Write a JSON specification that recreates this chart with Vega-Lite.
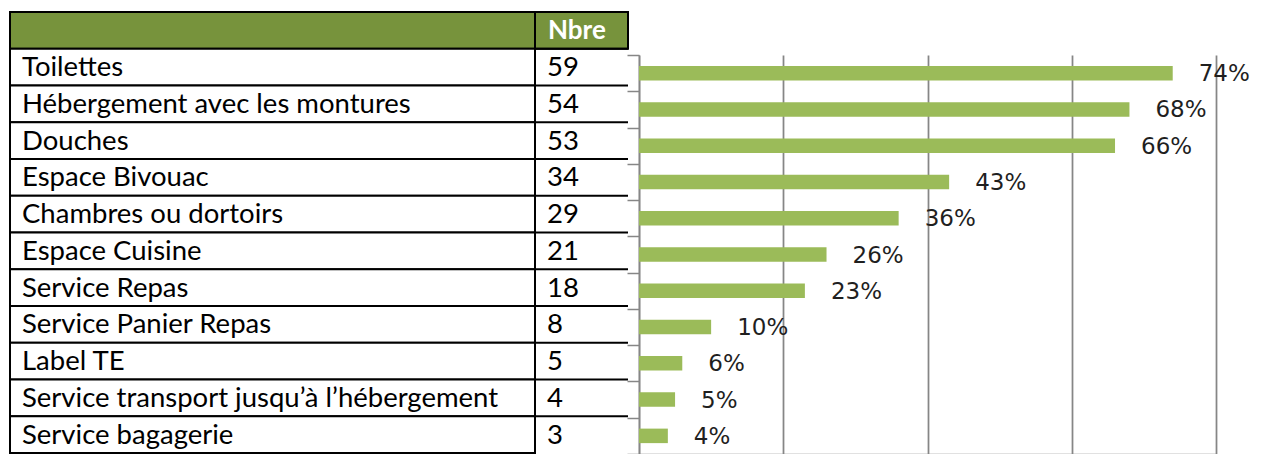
{
  "$schema": "https://vega.github.io/schema/vega-lite/v6.json",
  "padding": {"left": 9, "top": 11, "right": 0, "bottom": 0},
  "background": "white",
  "config": {"view": {"stroke": null}},
  "datasets": {
    "services": [
      {"service": "Toilettes", "nbre": 59, "part": 0.74},
      {"service": "Hébergement avec les montures", "nbre": 54, "part": 0.68},
      {"service": "Douches", "nbre": 53, "part": 0.66},
      {"service": "Espace Bivouac", "nbre": 34, "part": 0.43},
      {"service": "Chambres ou dortoirs", "nbre": 29, "part": 0.36},
      {"service": "Espace Cuisine", "nbre": 21, "part": 0.26},
      {"service": "Service Repas", "nbre": 18, "part": 0.23},
      {"service": "Service Panier Repas", "nbre": 8, "part": 0.10},
      {"service": "Label TE", "nbre": 5, "part": 0.06},
      {"service": "Service transport jusqu’à l’hébergement", "nbre": 4, "part": 0.05},
      {"service": "Service bagagerie", "nbre": 3, "part": 0.04}
    ],
    "entete": [{"service": "", "titre": "Nbre"}]
  },
  "spacing": -3,
  "hconcat": [
    {
      "bounds": "flush",
      "spacing": 0,
      "hconcat": [
        {
          "width": 525,
          "height": 441,
          "encoding": {
            "y": {"field": "service", "type": "nominal", "axis": null,
              "scale": {"domain": ["", "Toilettes", "Hébergement avec les montures", "Douches", "Espace Bivouac", "Chambres ou dortoirs", "Espace Cuisine", "Service Repas", "Service Panier Repas", "Label TE", "Service transport jusqu’à l’hébergement", "Service bagagerie"], "paddingInner": 0, "paddingOuter": 0}}
          },
          "layer": [
            {"data": {"name": "entete"}, "mark": {"type": "rect", "fill": "#77933C", "stroke": "black", "strokeWidth": 2}},
            {"data": {"name": "services"}, "mark": {"type": "rect", "fill": "white", "stroke": "black", "strokeWidth": 2}},
            {"data": {"name": "services"},
             "mark": {"type": "text", "align": "left", "baseline": "middle", "dx": 12, "dy": 1, "font": "Lato", "fontSize": 27.5, "color": "black"},
             "encoding": {
               "x": {"datum": "Service", "type": "nominal", "bandPosition": 0, "axis": null, "scale": {"type": "band", "paddingInner": 0, "paddingOuter": 0}},
               "text": {"field": "service"}
             }}
          ]
        },
        {
          "width": 93,
          "height": 441,
          "encoding": {
            "y": {"field": "service", "type": "nominal", "axis": null,
              "scale": {"domain": ["", "Toilettes", "Hébergement avec les montures", "Douches", "Espace Bivouac", "Chambres ou dortoirs", "Espace Cuisine", "Service Repas", "Service Panier Repas", "Label TE", "Service transport jusqu’à l’hébergement", "Service bagagerie"], "paddingInner": 0, "paddingOuter": 0}}
          },
          "layer": [
            {"data": {"name": "entete"}, "mark": {"type": "rect", "fill": "#77933C", "stroke": "black", "strokeWidth": 2}},
            {"data": {"name": "services"}, "mark": {"type": "rule", "stroke": "black", "strokeWidth": 2},
             "encoding": {"y": {"field": "service", "type": "nominal", "bandPosition": 0}}},
            {"data": {"name": "entete"},
             "mark": {"type": "text", "align": "left", "baseline": "middle", "dx": 13, "dy": 1, "font": "Lato", "fontSize": 26, "fontWeight": "bold", "color": "white"},
             "encoding": {
               "x": {"datum": "Nbre", "type": "nominal", "bandPosition": 0, "axis": null, "scale": {"type": "band", "paddingInner": 0, "paddingOuter": 0}},
               "text": {"field": "titre"}
             }},
            {"data": {"name": "services"},
             "mark": {"type": "text", "align": "left", "baseline": "middle", "dx": 12, "dy": 1, "font": "Lato", "fontSize": 27.5, "color": "black"},
             "encoding": {
               "x": {"datum": "Nbre", "type": "nominal", "bandPosition": 0, "axis": null, "scale": {"type": "band", "paddingInner": 0, "paddingOuter": 0}},
               "text": {"field": "nbre"}
             }}
          ]
        }
      ]
    },
    {
      "spacing": 10,
      "vconcat": [
        {
          "width": 577,
          "height": 32,
          "data": {"values": []},
          "mark": {"type": "point", "opacity": 0}
        },
        {
          "width": 577,
          "height": 399,
          "data": {"name": "services"},
          "encoding": {
            "y": {"field": "service", "type": "nominal",
              "scale": {"domain": ["Toilettes", "Hébergement avec les montures", "Douches", "Espace Bivouac", "Chambres ou dortoirs", "Espace Cuisine", "Service Repas", "Service Panier Repas", "Label TE", "Service transport jusqu’à l’hébergement", "Service bagagerie"], "paddingInner": 0, "paddingOuter": 0},
              "axis": {"labels": false, "title": null, "grid": false, "domainColor": "#868686", "domainWidth": 1.5, "tickColor": "#868686", "tickWidth": 1.5, "tickSize": 12, "tickBand": "extent"}}
          },
          "layer": [
            {"mark": {"type": "bar", "color": "#9BBB59", "height": {"band": 0.4}},
             "encoding": {
               "x": {"field": "part", "type": "quantitative",
                 "scale": {"domain": [0, 0.8], "nice": false},
                 "axis": {"values": [0, 0.2, 0.4, 0.6, 0.8], "labels": false, "ticks": false, "title": null, "grid": true, "gridColor": "#868686", "gridWidth": 1.75, "domainColor": "#868686", "domainWidth": 1.5}}
             }},
            {"mark": {"type": "text", "align": "left", "baseline": "middle", "dx": 26, "dy": 1, "font": "DejaVu Sans", "fontSize": 23, "color": "#1f1f1f"},
             "encoding": {
               "x": {"field": "part", "type": "quantitative"},
               "text": {"field": "part", "type": "quantitative", "format": ".0%"}
             }}
          ]
        }
      ]
    }
  ]
}
